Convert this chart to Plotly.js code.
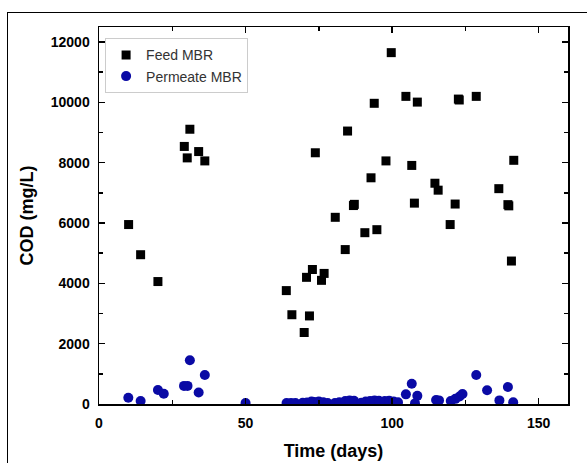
<!DOCTYPE html>
<html>
<head>
<meta charset="utf-8">
<script src="https://cdn.plot.ly/plotly-3.0.1.min.js"></script>
<style>
  html, body { margin: 0; padding: 0; background: #fff; }
  #frame { position: absolute; left: 7px; top: 12px; width: 600px; height: 470px;
           border-left: 1.3px solid #000; border-top: 1.3px solid #000; pointer-events: none; }
  #chart { position: absolute; left: 0; top: 0; width: 587px; height: 463px; }
</style>
</head>
<body>
<div id="chart"></div>
<div id="frame"></div>
<script>
// Feed MBR (COD, mg/L)
const feedDays = [10.1, 14.2, 20.1, 29.1, 30.1, 31.0, 34.0, 36.1, 63.9, 65.8, 70.0, 70.8, 71.8, 72.8,
  73.8, 75.9, 76.8, 80.6, 84.0, 84.8, 86.8, 87.1, 90.7, 92.8, 93.9, 94.8, 97.9, 99.7, 104.7, 106.7,
  107.6, 108.6, 114.6, 115.7, 119.8, 121.5, 122.6, 122.9, 128.7, 136.4, 139.5, 139.8, 140.7, 141.5];
const feedCOD = [5950, 4950, 4060, 8540, 8160, 9110, 8370, 8060, 3760, 2960, 2370, 4200, 2920, 4460,
  8330, 4100, 4330, 6190, 5120, 9050, 6580, 6620, 5680, 7500, 9970, 5780, 8060, 11650, 10200, 7910,
  6660, 10010, 7320, 7090, 5950, 6630, 10110, 10080, 10200, 7140, 6610, 6570, 4740, 8080];

// Permeate MBR (COD, mg/L)
const permDays = [10.0, 14.2, 20.1, 22.1, 29.0, 30.2, 31.0, 34.0, 36.1, 50.0, 64.0, 65.5, 67.0, 69.5,
  71.0, 72.5, 73.5, 75.0, 76.5, 78.0, 80.5, 82.0, 84.0, 85.5, 87.0, 89.5, 91.0, 92.5, 94.0, 95.5,
  97.5, 99.0, 100.5, 102.0, 104.7, 106.7, 108.6, 107.8, 115.0, 116.0, 120.0, 121.6, 123.0, 124.0,
  128.7, 132.4, 136.6, 139.5, 141.3];
const permCOD = [210, 100, 465, 340, 600, 600, 1450, 380, 960, 30, 30, 30, 30, 40,
  50, 80, 70, 80, 60, 30, 30, 60, 100, 120, 110, 40, 80, 100, 120, 110,
  100, 110, 80, 60, 320, 670, 270, 20, 130, 120, 100, 170, 250, 330,
  960, 455, 120, 565, 60];

const xTickVals = [0, 50, 100, 150];
const yTickVals = [0, 2000, 4000, 6000, 8000, 10000, 12000];

const tickFont = { family: 'Liberation Sans, Arial, sans-serif', size: 14, color: '#000', weight: 'bold' };
const titleFont = { family: 'Liberation Sans, Arial, sans-serif', size: 18, color: '#000', weight: 'bold' };

const traces = [
  { x: feedDays, y: feedCOD, name: 'Feed MBR', type: 'scatter', mode: 'markers',
    marker: { symbol: 'square', size: 9, color: '#000000' } },
  { x: permDays, y: permCOD, name: 'Permeate MBR', type: 'scatter', mode: 'markers',
    marker: { symbol: 'circle', size: 10, color: '#0a0aa5' } }
];

const axisCommon = {
  showline: true, linecolor: '#000', linewidth: 1.5, mirror: 'ticks',
  ticks: 'inside', ticklen: 6, tickwidth: 1.5, tickcolor: '#000',
  showgrid: false, zeroline: false, tickfont: tickFont
};

const layout = {
  width: 587, height: 463,
  margin: { l: 99, r: 19, t: 27, b: 59 },
  paper_bgcolor: 'rgba(0,0,0,0)', plot_bgcolor: '#fff',
  showlegend: true,
  legend: { x: 0.013, y: 0.97, xanchor: 'left', yanchor: 'top',
    bgcolor: '#fff', bordercolor: '#cccccc', borderwidth: 1,
    font: { family: 'Liberation Sans, Arial, sans-serif', size: 14, color: '#333' },
    tracegroupgap: 0 },
  xaxis: Object.assign({}, axisCommon, {
    range: [0, 160], tickvals: xTickVals, ticktext: xTickVals.map(String),
    minor: { ticks: 'inside', ticklen: 4, tickwidth: 1.5, tickcolor: '#000', dtick: 25, tick0: 0 },
    ticklabelstandoff: 6,
    title: { text: 'Time (days)', font: titleFont, standoff: 14 }
  }),
  yaxis: Object.assign({}, axisCommon, {
    range: [0, 12500], tickvals: yTickVals, ticktext: yTickVals.map(String),
    minor: { ticks: 'inside', ticklen: 4, tickwidth: 1.5, tickcolor: '#000', dtick: 1000, tick0: 0 },
    ticklabelstandoff: 5,
    title: { text: 'COD (mg/L)', font: titleFont, standoff: 12 }
  })
};

Plotly.newPlot('chart', traces, layout, { displayModeBar: false, staticPlot: true });
</script>
</body>
</html>
